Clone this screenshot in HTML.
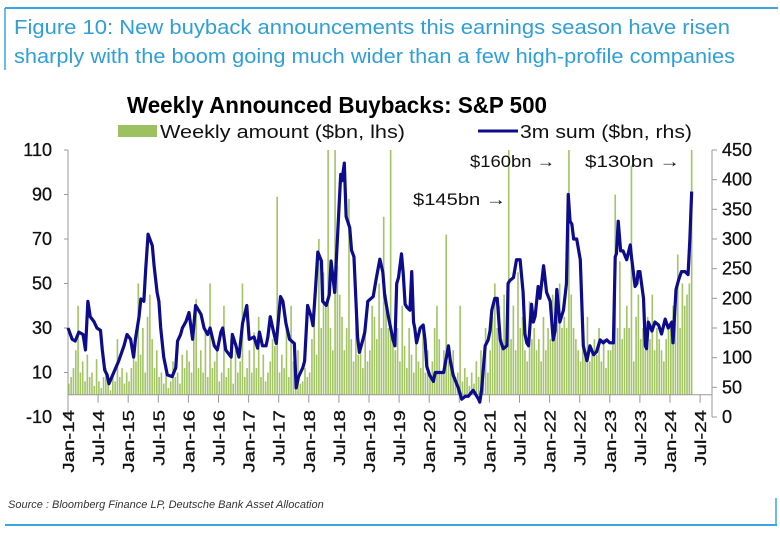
<!DOCTYPE html>
<html><head><meta charset="utf-8"><style>
body{margin:0;background:#fff;width:780px;height:534px;overflow:hidden;font-family:"Liberation Sans",Arial,sans-serif}
svg{display:block}
</style></head><body>
<svg id="c" width="780" height="534" viewBox="0 0 780 534">
<line x1="5" y1="8" x2="778" y2="8" stroke="#3aa6dd" stroke-width="2"/>
<line x1="5" y1="8" x2="5" y2="70" stroke="#3aa6dd" stroke-width="1.5"/>
<text x="14" y="34" font-size="20" fill="#2f9fd8" textLength="716" lengthAdjust="spacingAndGlyphs">Figure 10: New buyback announcements this earnings season have risen</text>
<text x="14" y="63" font-size="20" fill="#2f9fd8" textLength="721" lengthAdjust="spacingAndGlyphs">sharply with the boom going much wider than a few high-profile companies</text>
<text x="127" y="113" font-size="23" font-weight="bold" fill="#000" textLength="420" lengthAdjust="spacingAndGlyphs">Weekly Announced Buybacks: S&amp;P 500</text>
<g>
<rect x="118" y="125" width="39" height="12" fill="#9dc161"/>
<text x="160" y="138" font-size="18" fill="#111" textLength="245" lengthAdjust="spacingAndGlyphs">Weekly amount ($bn, lhs)</text>
<line x1="478" y1="131" x2="518" y2="131" stroke="#0c0c8c" stroke-width="3"/>
<text x="520" y="138" font-size="18" fill="#111" textLength="172" lengthAdjust="spacingAndGlyphs">3m sum ($bn, rhs)</text>
</g>
<g id="plot"></g>
<text x="470" y="167" font-size="17" fill="#111" textLength="85" lengthAdjust="spacingAndGlyphs">$160bn →</text>
<text x="585" y="167" font-size="17" fill="#111" textLength="95" lengthAdjust="spacingAndGlyphs">$130bn →</text>
<text x="413" y="205" font-size="17" fill="#111" textLength="93" lengthAdjust="spacingAndGlyphs">$145bn →</text>
<text x="8" y="508" font-size="11" font-style="italic" fill="#333">Source : Bloomberg Finance LP, Deutsche Bank Asset Allocation</text>
<line x1="776" y1="498" x2="776" y2="525" stroke="#3aa6dd" stroke-width="1.5"/>
<line x1="5" y1="525" x2="777" y2="525" stroke="#3aa6dd" stroke-width="2"/>
</svg>
<script>
const leftTicks=[110,90,70,50,30,10,-10];
const rightTicks=[450,400,350,300,250,200,150,100,50,0];
const xTickLabels=["Jan-14","Jul-14","Jan-15","Jul-15","Jan-16","Jul-16","Jan-17","Jul-17","Jan-18","Jul-18","Jan-19","Jul-19","Jan-20","Jul-20","Jan-21","Jul-21","Jan-22","Jul-22","Jan-23","Jul-23","Jan-24","Jul-24"];
const barStart=2014.0;
const barsPerYear=26;
const weeklyAmount=[
5,8,12,20,40,10,15,6,18,8,10,4,16,6,3,8,12,5,2,10,6,25,8,12,5,10,
6,12,22,15,50,18,30,10,35,45,25,12,20,8,10,5,12,3,6,15,8,10,5,18,12,20,
15,10,28,43,12,20,10,30,8,50,12,15,20,6,10,40,8,12,25,5,20,10,15,50,8,12,
20,10,28,12,35,8,18,6,10,15,25,22,89,10,18,12,30,8,40,15,10,20,5,6,12,8,
10,25,44,18,70,30,55,40,110,30,20,110,58,45,35,20,30,88,25,15,40,18,22,12,30,15,
20,40,35,25,50,30,80,45,30,110,25,20,30,15,40,22,12,30,18,10,25,15,12,30,10,20,
8,15,30,40,25,10,20,72,15,12,20,8,10,40,6,12,8,4,10,5,15,8,20,12,30,10,
20,35,50,30,40,25,45,30,110,25,40,20,55,30,35,20,15,42,25,30,20,25,15,35,20,30,
25,45,30,40,50,30,35,30,110,45,30,25,20,15,25,20,35,15,20,25,18,30,15,25,12,20,
20,25,90,30,60,25,30,40,30,103,15,35,45,25,30,20,35,25,45,20,30,25,20,15,25,30,
30,40,45,63,30,50,40,45,50,110];
const lineDates=[2014.00,2014.07,2014.12,2014.18,2014.25,2014.29,2014.33,2014.37,2014.43,2014.48,2014.54,2014.57,2014.61,2014.65,2014.68,2014.76,2014.84,2014.93,2014.98,2015.04,2015.09,2015.12,2015.18,2015.21,2015.26,2015.29,2015.33,2015.40,2015.43,2015.48,2015.51,2015.54,2015.59,2015.65,2015.73,2015.79,2015.82,2015.87,2015.90,2015.96,2016.01,2016.07,2016.12,2016.21,2016.26,2016.32,2016.36,2016.43,2016.48,2016.54,2016.57,2016.62,2016.71,2016.73,2016.79,2016.84,2016.90,2016.97,2017.01,2017.09,2017.15,2017.18,2017.23,2017.29,2017.32,2017.36,2017.40,2017.46,2017.53,2017.57,2017.62,2017.68,2017.76,2017.79,2017.83,2017.90,2017.93,2017.98,2018.04,2018.07,2018.11,2018.15,2018.21,2018.23,2018.29,2018.34,2018.37,2018.43,2018.46,2018.53,2018.55,2018.59,2018.62,2018.68,2018.71,2018.75,2018.81,2018.84,2018.90,2018.93,2018.98,2019.07,2019.12,2019.18,2019.23,2019.26,2019.32,2019.40,2019.43,2019.46,2019.49,2019.54,2019.57,2019.60,2019.63,2019.68,2019.71,2019.74,2019.76,2019.79,2019.85,2019.90,2019.93,2019.96,2020.01,2020.07,2020.10,2020.15,2020.24,2020.32,2020.35,2020.40,2020.46,2020.48,2020.54,2020.60,2020.65,2020.73,2020.82,2020.84,2020.87,2020.93,2020.98,2021.01,2021.04,2021.09,2021.13,2021.18,2021.23,2021.29,2021.31,2021.34,2021.40,2021.45,2021.51,2021.56,2021.59,2021.62,2021.65,2021.70,2021.73,2021.76,2021.81,2021.84,2021.90,2021.95,2022.01,2022.06,2022.09,2022.12,2022.17,2022.23,2022.28,2022.31,2022.34,2022.37,2022.40,2022.45,2022.51,2022.56,2022.62,2022.67,2022.73,2022.78,2022.84,2022.89,2022.95,2023.00,2023.06,2023.09,2023.11,2023.14,2023.18,2023.22,2023.28,2023.34,2023.36,2023.42,2023.45,2023.47,2023.50,2023.56,2023.59,2023.61,2023.64,2023.70,2023.75,2023.81,2023.86,2023.92,2023.97,2024.03,2024.05,2024.10,2024.14,2024.19,2024.25,2024.30,2024.33,2024.36,2024.37];
const lineValues=[150,131,128,143,139,113,195,169,161,150,146,113,79,71,56,75,94,120,139,131,101,131,169,199,195,248,308,289,255,210,195,150,101,71,68,83,128,139,150,161,176,131,188,173,150,139,150,120,113,143,150,113,101,139,120,101,158,188,131,135,116,143,120,120,135,169,150,124,203,195,158,131,124,49,68,83,94,188,169,154,214,278,263,195,188,206,263,210,270,409,398,428,338,319,281,270,135,109,131,143,195,203,233,266,244,206,170,130,120,225,235,275,240,190,185,180,245,160,150,125,150,155,130,85,70,60,75,75,75,120,95,70,55,50,30,35,35,45,30,25,45,120,130,145,180,200,200,130,115,120,225,230,235,265,265,210,140,125,120,190,160,170,220,200,255,210,195,130,145,215,160,180,225,375,330,325,300,300,265,120,95,120,105,110,130,125,130,125,125,270,275,330,280,280,265,290,270,220,225,245,245,200,120,115,160,145,160,155,140,165,150,160,125,215,230,245,245,240,300,380];

const NS="http://www.w3.org/2000/svg";
const plot=document.getElementById('plot');
const X0=68,X1=712,YT=150,YB=417;
const xScale=d=>X0+(d-2014)*60.2;
const yL=v=>YB-(v+10)/120*(YB-YT);
const yR=v=>YB-v/450*(YB-YT);
function mk(tag,attrs){const e=document.createElementNS(NS,tag);for(const k in attrs)e.setAttribute(k,attrs[k]);plot.appendChild(e);return e;}

const bw=60.2/barsPerYear;
weeklyAmount.forEach((v,i)=>{
  const d=barStart+i/barsPerYear;
  const r=mk('rect',{x:(xScale(d)).toFixed(2),y:yL(v).toFixed(2),width:(bw*0.7).toFixed(2),height:(yL(0)-yL(v)).toFixed(2),fill:'#a3c566'});
  
  
});
let a=mk('line',{x1:X0,y1:YT,x2:X0,y2:YB,stroke:'#999','stroke-width':1});


a=mk('line',{x1:X1,y1:YT,x2:X1,y2:YB,stroke:'#999','stroke-width':1});


a=mk('line',{x1:X0,y1:yL(0),x2:X1,y2:yL(0),stroke:'#999','stroke-width':1});


leftTicks.forEach(v=>{
  const t=mk('text',{x:52,y:yL(v)+6,'font-size':18,'text-anchor':'end',fill:'#111',stroke:'#111','stroke-width':0.3});
  t.textContent=v;
  
  
  const m=mk('line',{x1:X0-4,y1:yL(v),x2:X0,y2:yL(v),stroke:'#999'});
  
  
});
rightTicks.forEach(v=>{
  const t=mk('text',{x:722,y:yR(v)+6,'font-size':18,fill:'#111',stroke:'#111','stroke-width':0.3});
  t.textContent=v;
  
  
  const m=mk('line',{x1:X1,y1:yR(v),x2:X1+5,y2:yR(v),stroke:'#999'});
  
  
});
xTickLabels.forEach((s,i)=>{
  const x=xScale(2014+i/2);
  const m=mk('line',{x1:x,y1:yL(0),x2:x,y2:yL(0)+8,stroke:'#999'});
  
  
  const t=mk('text',{x:0,y:0,'font-size':16,'text-anchor':'end',fill:'#111',stroke:'#111','stroke-width':0.3,transform:`translate(${x+6},${410}) rotate(-90) scale(1.28,1)`});
  t.textContent=s;
  
  
});
const pts=lineDates.map((d,i)=>xScale(d).toFixed(2)+','+yR(lineValues[i]).toFixed(2)).join(' ');
const pl=mk('polyline',{points:pts,fill:'none',stroke:'#0c0c8c','stroke-width':3.2,'stroke-linejoin':'round'});


</script>
</body></html>
